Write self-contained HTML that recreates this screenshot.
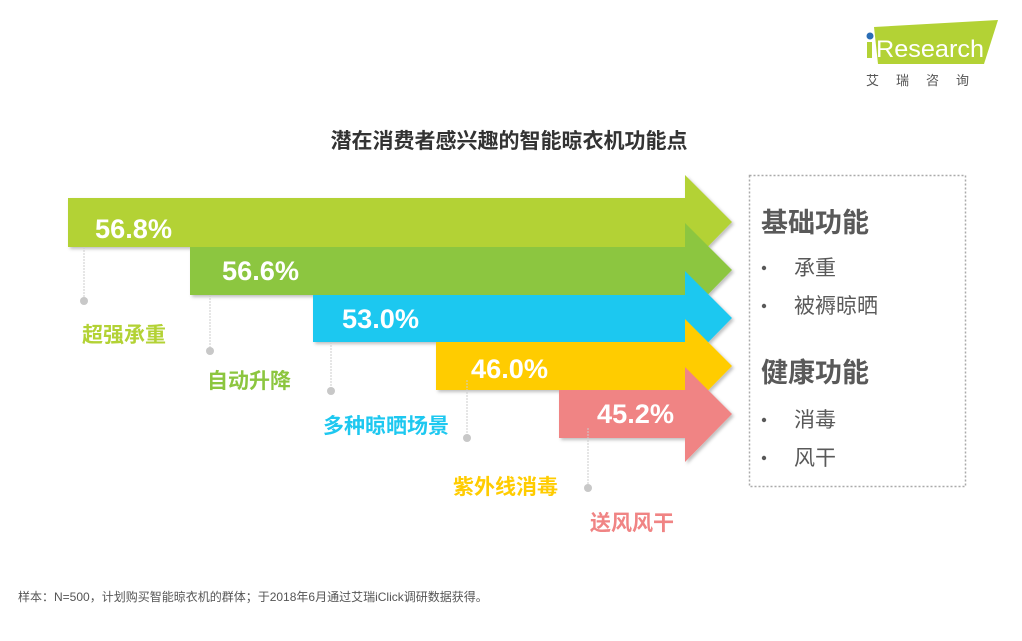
<!DOCTYPE html>
<html><head><meta charset="utf-8"><style>
body{margin:0;width:1022px;height:636px;background:#fff;overflow:hidden}
svg text{font-family:"Liberation Sans","Noto Sans CJK SC",sans-serif}
</style></head><body>
<svg width="1022" height="636" xmlns="http://www.w3.org/2000/svg">
<defs><filter id="sh" x="-5%" y="-5%" width="115%" height="125%"><feDropShadow dx="2" dy="2" stdDeviation="1.5" flood-color="#000" flood-opacity="0.25"/></filter></defs>
<!-- logo -->
<polygon points="874,27 998,20 984,64 878,64" fill="#b3d235"/>
<circle cx="870" cy="36" r="3.5" fill="#2a6db5"/>
<rect x="867" y="42" width="5" height="16" fill="#b3d235"/>
<text x="876" y="57" font-size="24" fill="#fff" textLength="108" lengthAdjust="spacingAndGlyphs">Research</text>
<text x="866" y="85" font-size="13" fill="#555" letter-spacing="17">艾瑞咨询</text>
<text x="509" y="148" font-size="21" font-weight="bold" fill="#333" text-anchor="middle">潜在消费者感兴趣的智能晾衣机功能点</text>
<!-- arrows -->
<g filter="url(#sh)">
<polygon points="68,198 685,198 685,175 732,222 685,270 685,247 68,247" fill="#b3d235"/>
<polygon points="190,247 685,247 685,223 732,270 685,318 685,295 190,295" fill="#8cc63f"/>
<polygon points="313,295 685,295 685,271 732,318 685,366 685,342 313,342" fill="#1ec8f0"/>
<polygon points="436,342 685,342 685,319 732,366 685,414 685,390 436,390" fill="#ffcc00"/>
<polygon points="559,390 685,390 685,367 732,414 685,462 685,438 559,438" fill="#f08484"/>
</g>
<g font-size="27" font-weight="bold" fill="#fff">
<text x="95" y="238" textLength="77" lengthAdjust="spacingAndGlyphs">56.8%</text>
<text x="222" y="280" textLength="77" lengthAdjust="spacingAndGlyphs">56.6%</text>
<text x="342" y="328" textLength="77" lengthAdjust="spacingAndGlyphs">53.0%</text>
<text x="471" y="378" textLength="77" lengthAdjust="spacingAndGlyphs">46.0%</text>
<text x="597" y="423" textLength="77" lengthAdjust="spacingAndGlyphs">45.2%</text>
</g>
<g stroke="#ccc" stroke-width="1" stroke-dasharray="2,1">
<line x1="84" y1="247" x2="84" y2="300"/>
<line x1="210" y1="295" x2="210" y2="350"/>
<line x1="331" y1="342" x2="331" y2="390"/>
<line x1="467" y1="380" x2="467" y2="437"/>
<line x1="588" y1="428" x2="588" y2="487"/>
</g>
<g fill="#c8c8c8">
<circle cx="84" cy="301" r="4"/><circle cx="210" cy="351" r="4"/><circle cx="331" cy="391" r="4"/><circle cx="467" cy="438" r="4"/><circle cx="588" cy="488" r="4"/>
</g>
<g font-size="21" font-weight="bold">
<text x="82" y="342" fill="#b3d235">超强承重</text>
<text x="207" y="388" fill="#8cc63f">自动升降</text>
<text x="323" y="433" fill="#1ec8f0">多种晾晒场景</text>
<text x="453" y="494" fill="#ffcc00">紫外线消毒</text>
<text x="590" y="530" fill="#f08484">送风风干</text>
</g>
<rect x="749.5" y="175.5" width="216" height="311" fill="none" stroke="#aaa" stroke-width="1.5" stroke-dasharray="2,2"/>
<g fill="#595959">
<text x="761" y="232" font-size="27" font-weight="bold">基础功能</text>
<text x="761" y="382" font-size="27" font-weight="bold">健康功能</text>
<g font-size="21"><text x="794" y="275">承重</text><text x="794" y="313">被褥晾晒</text><text x="794" y="427">消毒</text><text x="794" y="465">风干</text></g>
<circle cx="764" cy="268" r="2.2"/><circle cx="764" cy="306" r="2.2"/><circle cx="764" cy="420" r="2.2"/><circle cx="764" cy="458" r="2.2"/>
</g>
<text x="18" y="601" font-size="12" fill="#555">样本：N=500，计划购买智能晾衣机的群体；于2018年6月通过艾瑞iClick调研数据获得。</text>
</svg>
</body></html>
